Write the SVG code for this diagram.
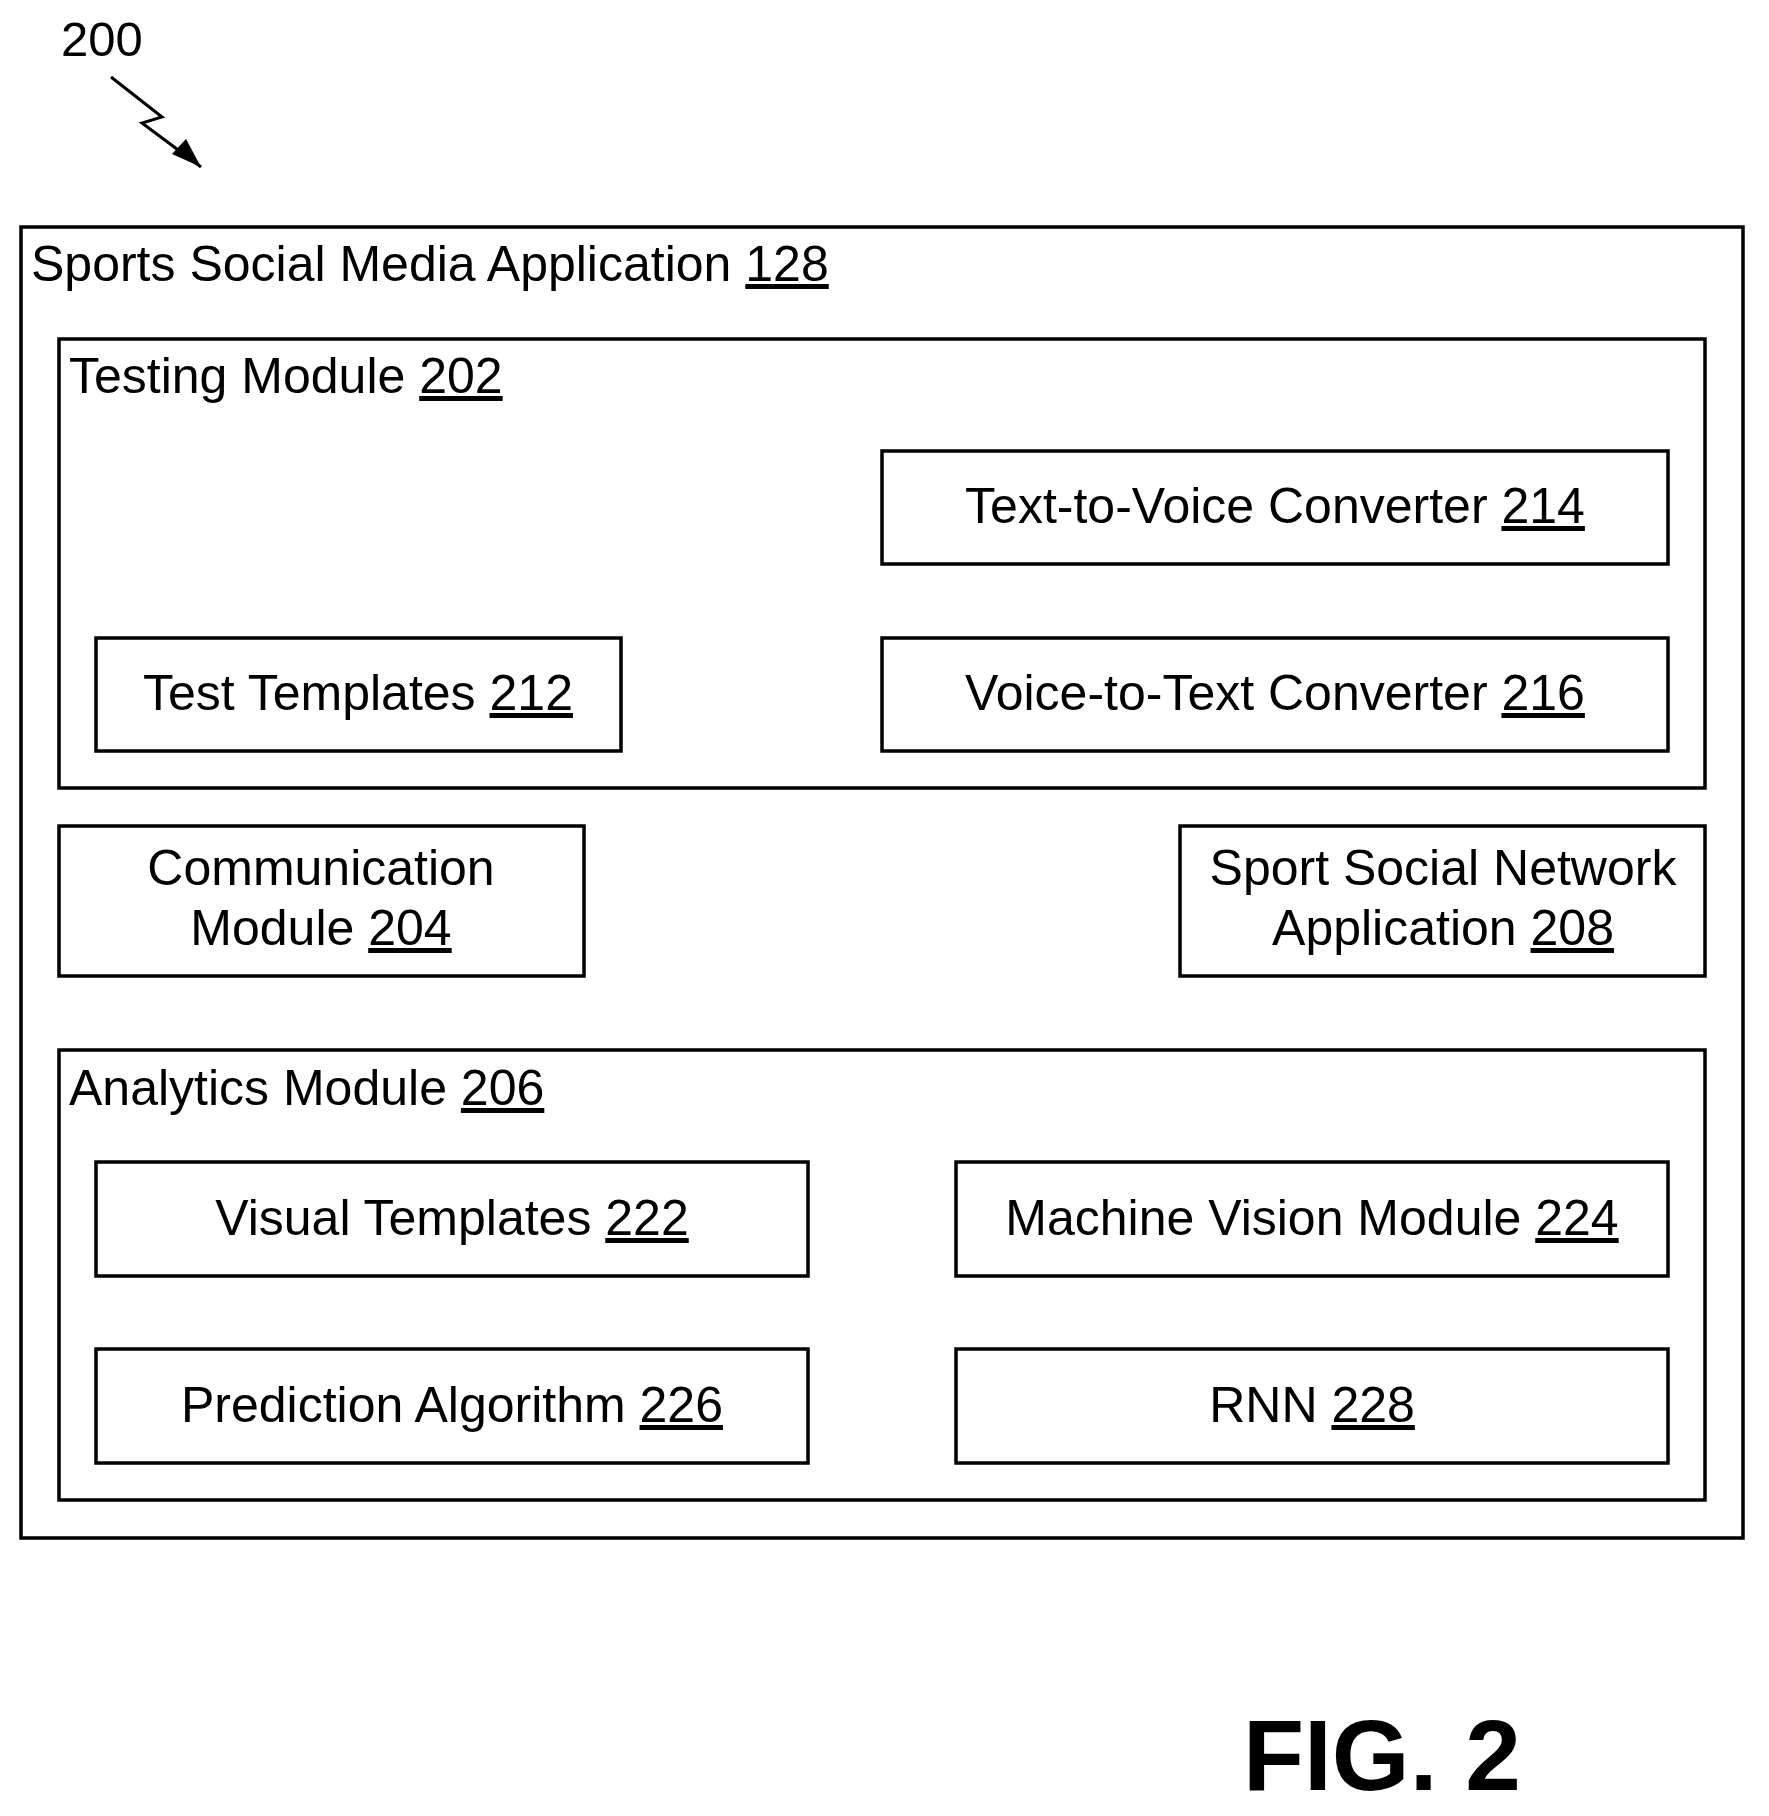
<svg xmlns="http://www.w3.org/2000/svg" width="1769" height="1816" viewBox="0 0 1769 1816">
<style>
text{font-family:"Liberation Sans",Arial,sans-serif;font-size:50px;fill:#000}
.c{text-anchor:middle}
.u{text-decoration:underline}
rect{fill:none;stroke:#000;stroke-width:3.5}
</style>
<rect width="1769" height="1816" style="fill:#fff;stroke:none"/>
<text x="61" y="56" style="font-size:49px">200</text>
<g id="connectors"><path d="M111,77 L162,117 L142,123 L201,167" fill="none" stroke="#000" stroke-width="3"/><path d="M201,167 L172,154 L186,139 z" fill="#000"/></g>
<g id="app"><rect x="21" y="227" width="1722" height="1311"/><text x="31" y="281">Sports Social Media Application <tspan class="u">128</tspan></text></g>
<g id="testing"><rect x="59" y="339" width="1646" height="449"/><text x="69" y="393">Testing Module <tspan class="u">202</tspan></text></g>
<g id="t214"><rect x="882" y="451" width="786" height="113"/><text class="c" x="1275" y="523">Text-to-Voice Converter <tspan class="u">214</tspan></text></g>
<g id="t212"><rect x="96" y="638" width="525" height="113"/><text class="c" x="358" y="710">Test Templates <tspan class="u">212</tspan></text></g>
<g id="t216"><rect x="882" y="638" width="786" height="113"/><text class="c" x="1275" y="710">Voice-to-Text Converter <tspan class="u">216</tspan></text></g>
<g id="t204"><rect x="59" y="826" width="525" height="150"/><text class="c" x="321" y="885">Communication</text><text class="c" x="321" y="945">Module <tspan class="u">204</tspan></text></g>
<g id="t208"><rect x="1180" y="826" width="525" height="150"/><text class="c" x="1443" y="885">Sport Social Network</text><text class="c" x="1443" y="945">Application <tspan class="u">208</tspan></text></g>
<g id="analytics"><rect x="59" y="1050" width="1646" height="450"/><text x="69" y="1105">Analytics Module <tspan class="u">206</tspan></text></g>
<g id="t222"><rect x="96" y="1162" width="712" height="114"/><text class="c" x="452" y="1235">Visual Templates <tspan class="u">222</tspan></text></g>
<g id="t224"><rect x="956" y="1162" width="712" height="114"/><text class="c" x="1312" y="1235">Machine Vision Module <tspan class="u">224</tspan></text></g>
<g id="t226"><rect x="96" y="1349" width="712" height="114"/><text class="c" x="452" y="1422">Prediction Algorithm <tspan class="u">226</tspan></text></g>
<g id="t228"><rect x="956" y="1349" width="712" height="114"/><text class="c" x="1312" y="1422">RNN <tspan class="u">228</tspan></text></g>
<text x="1243" y="1790" style="font-size:100px;font-weight:bold">FIG. 2</text>
</svg>
